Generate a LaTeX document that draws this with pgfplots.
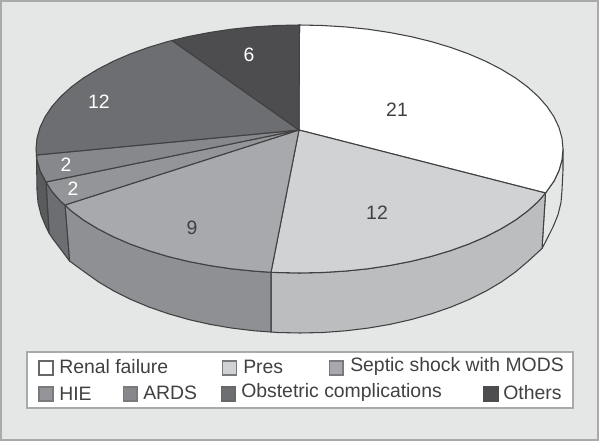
\documentclass[border=0pt]{standalone}
\usepackage{fontspec}
\setmainfont{Liberation Sans}
\usepackage{pgfplots}
\pgfplotsset{compat=1.18}
\definecolor{bgpanel}{HTML}{E5E7E6}
\definecolor{framegray}{HTML}{A9AAAB}
\definecolor{edge}{HTML}{414042}
\definecolor{renal}{HTML}{FFFFFF}
\definecolor{pres}{HTML}{D1D2D4}
\definecolor{presside}{HTML}{BCBDBF}
\definecolor{septic}{HTML}{A7A9AC}
\definecolor{septicside}{HTML}{8F9093}
\definecolor{hie}{HTML}{939598}
\definecolor{hieside}{HTML}{6D6E71}
\definecolor{ards}{HTML}{87888B}
\definecolor{ardsside}{HTML}{5A5B5D}
\definecolor{obst}{HTML}{6D6E71}
\definecolor{others}{HTML}{4D4D4F}
\tikzset{
  slice/.style={draw=edge, line width=0.8pt, line join=round},
  swatch/.style={draw=#1, line width=1pt, line join=miter},
  lab/.style={font=\fontsize{14.55}{17}\selectfont, text=edge, anchor=base west, inner sep=0pt},
  num/.style={font=\fontsize{14.55}{17}\selectfont, anchor=base, inner sep=0pt},
}
\begin{document}
\begin{tikzpicture}
\begin{axis}[
  scale only axis, width=450pt, height=330.75pt,
  xmin=0, xmax=600, ymin=0, ymax=441, y dir=reverse,
  hide axis, clip=false,
]
% panel
\addplot[fill=white, draw=none] coordinates {(0,0) (600,0) (600,441) (0,441)} --cycle;
\addplot[fill=bgpanel, draw=framegray, line width=1.5pt] coordinates {(1,1) (598,1) (598,440) (1,440)} --cycle;

% side walls
\addplot[slice, fill=bgpanel] coordinates {
  (563,149) (562,159.8) (559,170.5) (554,181.1) (545.5,193) (542,248.5)
  (547,238.9) (553,227) (558,214.8) (561,202.5) (562,190) (563,170)} --cycle;
\addplot[slice, fill=presside] coordinates {
  (545.5,193) (538.3,201.4) (527.7,211) (515.4,220.1) (501.3,228.7) (485.8,236.7)
  (468.9,244) (450.6,250.6) (431.3,256.4) (410.9,261.4) (389.6,265.5) (367.7,268.8)
  (345.2,271.1) (322.5,272.5) (299.5,273) (276.5,272.5) (271,272.3)
  (271,332) (277.1,332.5) (300,333) (322.9,332.5) (345.7,330.8) (368.1,328.1)
  (389.9,324.4) (411.1,319.6) (431.5,313.8) (450.9,307.1) (469.1,299.5) (486,291.1)
  (501.5,281.9) (515.4,272) (527.8,261.5) (542,248.5)} --cycle;
\addplot[slice, fill=septicside] coordinates {
  (271,272.3) (253.8,271.1) (231.3,268.8) (209.4,265.5) (188.1,261.4) (167.7,256.4)
  (148.4,250.6) (130.1,244) (113.2,236.7) (97.7,228.7) (83.6,220.1) (71.3,211) (65,205)
  (69.5,261) (84.6,272) (98.5,281.9) (114,291.1) (130.9,299.5) (149.1,307.1) (168.5,313.8)
  (188.9,319.6) (210.1,324.4) (231.9,328.1) (254.3,330.8) (271,332)} --cycle;
\addplot[slice, fill=hieside] coordinates {
  (65,205) (60.7,201.4) (51.9,191.4) (46,182) (49,233) (52.9,238.9) (61.6,250.4) (69.5,261)} --cycle;
\addplot[slice, fill=ardsside] coordinates {
  (46,182) (40,170.5) (37,159.8) (36.5,155) (37,190) (38,202.5) (41,214.8) (46,227) (49,233)} --cycle;

% top faces
\addplot[slice, fill=renal] coordinates {
  (299,130) (299.5,25) (322.5,25.5) (345.2,26.9) (367.7,29.2) (389.6,32.5) (410.9,36.6)
  (431.3,41.6) (450.6,47.4) (468.9,54) (485.8,61.3) (501.3,69.3) (515.4,77.9) (527.7,87)
  (538.3,96.6) (547.1,106.6) (554,116.9) (559,127.5) (562,138.2) (563,149) (562,159.8)
  (559,170.5) (554,181.1) (545.5,193)} --cycle;
\addplot[slice, fill=pres] coordinates {
  (299,130) (545.5,193) (538.3,201.4) (527.7,211) (515.4,220.1) (501.3,228.7) (485.8,236.7)
  (468.9,244) (450.6,250.6) (431.3,256.4) (410.9,261.4) (389.6,265.5) (367.7,268.8)
  (345.2,271.1) (322.5,272.5) (299.5,273) (276.5,272.5) (271,272.3)} --cycle;
\addplot[slice, fill=septic] coordinates {
  (299,130) (271,272.3) (253.8,271.1) (231.3,268.8) (209.4,265.5) (188.1,261.4) (167.7,256.4)
  (148.4,250.6) (130.1,244) (113.2,236.7) (97.7,228.7) (83.6,220.1) (71.3,211) (65,205)} --cycle;
\addplot[slice, fill=hie] coordinates {
  (299,130) (65,205) (60.7,201.4) (51.9,191.4) (46,182)} --cycle;
\addplot[slice, fill=ards] coordinates {
  (299,130) (46,182) (40,170.5) (37,159.8) (36.5,155)} --cycle;
\addplot[slice, fill=obst] coordinates {
  (299,130) (36.5,155) (36,149) (37,138.2) (40,127.5) (45,116.9) (51.9,106.6) (60.7,96.6)
  (71.3,87) (83.6,77.9) (97.7,69.3) (113.2,61.3) (130.1,54) (148.4,47.4) (167.7,41.6) (172,40.5)} --cycle;
\addplot[slice, fill=others] coordinates {
  (299,130) (172,40.5) (188.1,36.6) (209.4,32.5) (231.3,29.2) (253.8,26.9) (276.5,25.5) (299.5,25)} --cycle;

% value labels
\node[num, text=edge] at (axis cs:397,117) {21};
\node[num, text=edge] at (axis cs:377,219.5) {12};
\node[num, text=edge] at (axis cs:192,235) {9};
\node[num, text=white] at (axis cs:66,172) {2};
\node[num, text=white] at (axis cs:73,196) {2};
\node[num, text=white] at (axis cs:99,109) {12};
\node[num, text=white] at (axis cs:249,62) {6};

% legend
\addplot[fill=white, draw=framegray, line width=1pt] coordinates {(27,352) (573,352) (573,408) (27,408)} --cycle;
\addplot[swatch=edge!80, fill=renal] coordinates {(39,361) (53,361) (53,375) (39,375)} --cycle;
\addplot[swatch=edge!70, fill=pres] coordinates {(222.5,361) (236.5,361) (236.5,375) (222.5,375)} --cycle;
\addplot[swatch=edge!70, fill=septic] coordinates {(329.5,361) (343,361) (343,375) (329.5,375)} --cycle;
\addplot[swatch=edge!70, fill=hie] coordinates {(39,387) (53,387) (53,401) (39,401)} --cycle;
\addplot[swatch=edge!70, fill=ards] coordinates {(123.5,387) (137,387) (137,401) (123.5,401)} --cycle;
\addplot[swatch=edge!80, fill=obst] coordinates {(221.5,387) (235,387) (235,401) (221.5,401)} --cycle;
\addplot[swatch=others, fill=others] coordinates {(484,387) (498,387) (498,401) (484,401)} --cycle;
\node[lab] at (axis cs:59,374) {Renal failure};
\node[lab] at (axis cs:243,374) {Pres};
\node[lab] at (axis cs:350,372) {Septic shock with MODS};
\node[lab] at (axis cs:59,401) {HIE};
\node[lab] at (axis cs:143,400) {ARDS};
\node[lab] at (axis cs:241,398) {Obstetric complications};
\node[lab] at (axis cs:503,400) {Others};
\end{axis}
\end{tikzpicture}
\end{document}
